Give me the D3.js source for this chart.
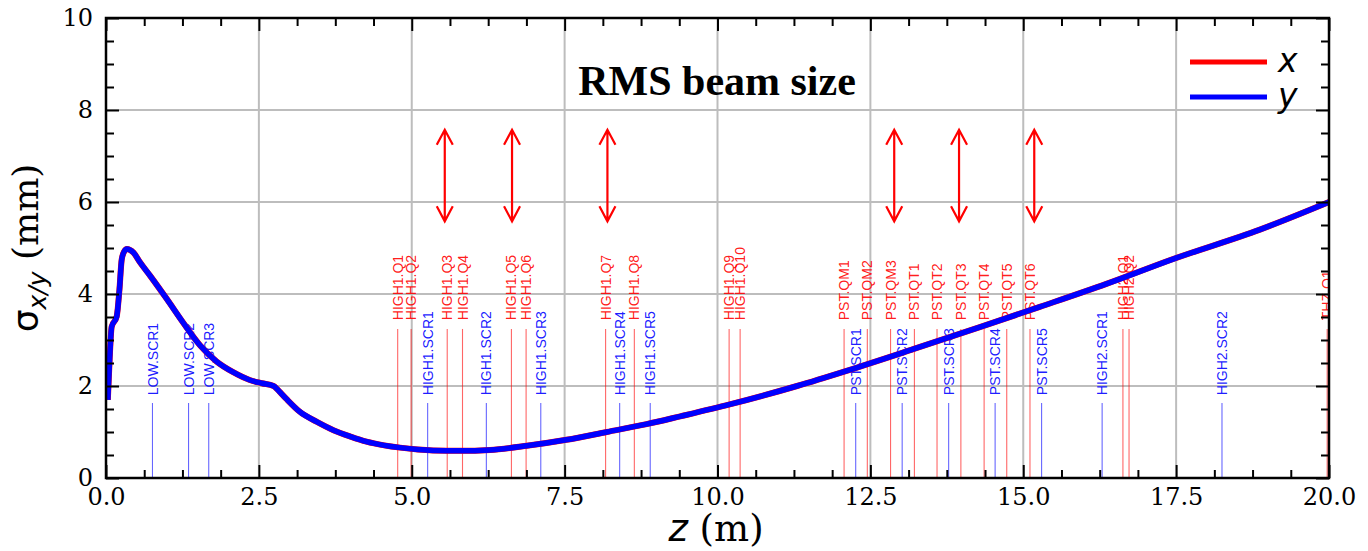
<!DOCTYPE html>
<html>
<head>
<meta charset="utf-8">
<script src="https://cdn.jsdelivr.net/npm/d3@7"></script>
<style>
  html, body { margin: 0; padding: 0; background: #fff; }
  svg { display: block; }
</style>
</head>
<body>
<svg id="chart" width="1368" height="551"></svg>
<script>
// ---------- DATA ----------
const zVals  = [0.03, 0.06, 0.093, 0.175, 0.22, 0.257, 0.30, 0.34, 0.45, 0.55, 0.72, 0.99, 1.26, 1.54, 1.81, 2.08, 2.35, 2.55, 2.74, 2.80, 2.85, 2.95, 3.17, 3.45, 3.72, 4.00, 4.26, 4.55, 4.81, 5.10, 5.35, 5.79, 6.28, 6.88, 7.53, 8.19, 8.84, 9.39, 10.2, 11.3, 12.11, 13.2, 14.29, 15.27, 16.36, 17.45, 18.87, 20.0];
const sigmaX = [1.70, 2.60, 3.29, 3.51, 4.10, 4.75, 4.93, 4.98, 4.90, 4.70, 4.40, 3.90, 3.38, 2.88, 2.53, 2.30, 2.13, 2.06, 2.00, 1.93, 1.86, 1.72, 1.44, 1.22, 1.04, 0.90, 0.79, 0.71, 0.66, 0.62, 0.60, 0.59, 0.61, 0.70, 0.83, 1.00, 1.17, 1.34, 1.60, 2.00, 2.33, 2.80, 3.28, 3.72, 4.22, 4.76, 5.40, 6.00];
const sigmaY = [1.70, 2.60, 3.29, 3.51, 4.10, 4.75, 4.93, 4.98, 4.90, 4.70, 4.40, 3.90, 3.38, 2.88, 2.53, 2.30, 2.13, 2.06, 2.00, 1.93, 1.86, 1.72, 1.44, 1.22, 1.04, 0.90, 0.79, 0.71, 0.66, 0.62, 0.60, 0.59, 0.61, 0.70, 0.83, 1.00, 1.17, 1.34, 1.60, 2.00, 2.33, 2.80, 3.28, 3.72, 4.22, 4.76, 5.40, 6.00];

const quadNames = ["HIGH1.Q1","HIGH1.Q2","HIGH1.Q3","HIGH1.Q4","HIGH1.Q5","HIGH1.Q6","HIGH1.Q7","HIGH1.Q8","HIGH1.Q9","HIGH1.Q10",
                   "PST.QM1","PST.QM2","PST.QM3","PST.QT1","PST.QT2","PST.QT3","PST.QT4","PST.QT5","PST.QT6",
                   "HIGH2.Q1","HIGH2.Q2","THZ.Q1"];
const quadZ     = [4.77, 4.99, 5.58, 5.83, 6.63, 6.87, 8.17, 8.64, 10.19, 10.37,
                   12.07, 12.45, 12.83, 13.22, 13.59, 13.98, 14.36, 14.73, 15.11,
                   16.63, 16.73, 19.97];

const screenNames = ["LOW.SCR1","LOW.SCR2","LOW.SCR3","HIGH1.SCR1","HIGH1.SCR2","HIGH1.SCR3","HIGH1.SCR4","HIGH1.SCR5",
                     "PST.SCR1","PST.SCR2","PST.SCR3","PST.SCR4","PST.SCR5","HIGH2.SCR1","HIGH2.SCR2"];
const screenZ     = [0.76, 1.35, 1.68, 5.26, 6.22, 7.11, 8.40, 8.90,
                     12.26, 13.02, 13.78, 14.54, 15.30, 16.29, 18.25];

const arrowZ = [5.54, 6.64, 8.20, 12.89, 13.95, 15.18];

const xTicks = [0, 2.5, 5, 7.5, 10, 12.5, 15, 17.5, 20];
const xTickLabels = ["0.0","2.5","5.0","7.5","10.0","12.5","15.0","17.5","20.0"];
const yTicks = [0, 2, 4, 6, 8, 10];
const yTickLabels = ["0","2","4","6","8","10"];

const titleText = "RMS beam size";
const legendLabels = ["x", "y"];

// ---------- LAYOUT ----------
const L = 106, R = 1329, T = 18, B = 478;
const x = d3.scaleLinear().domain([0, 20]).range([L, R]);
const y = d3.scaleLinear().domain([0, 10]).range([B, T]);

const svg = d3.select("#chart");

svg.append("defs").append("clipPath").attr("id", "plotclip")
  .append("rect").attr("x", L).attr("y", T).attr("width", R - L).attr("height", B - T);

// grid
const grid = svg.append("g");
grid.selectAll("line.gx").data(xTicks).join("line")
  .attr("x1", d => x(d)).attr("x2", d => x(d)).attr("y1", T).attr("y2", B)
  .attr("stroke", "#bdbdbd").attr("stroke-width", 2);
grid.selectAll("line.gy").data(yTicks).join("line")
  .attr("y1", d => y(d)).attr("y2", d => y(d)).attr("x1", L).attr("x2", R)
  .attr("stroke", "#bdbdbd").attr("stroke-width", 2);

const plot = svg.append("g").attr("clip-path", "url(#plotclip)");

// element markers
const quadLineTop = 3.24, quadLabelStart = 3.43;
const scrLineTop = 1.63, scrLabelStart = 1.80;

const quads = quadNames.map((n, i) => ({ name: n, z: quadZ[i] }));
const scrs = screenNames.map((n, i) => ({ name: n, z: screenZ[i] }));

plot.selectAll("line.q").data(quads).join("line")
  .attr("x1", d => x(d.z)).attr("x2", d => x(d.z))
  .attr("y1", y(0)).attr("y2", y(quadLineTop))
  .attr("stroke", "#ff0000").attr("stroke-opacity", 0.6).attr("stroke-width", 1.1);
plot.selectAll("text.q").data(quads).join("text")
  .attr("transform", d => `translate(${x(d.z)},${y(quadLabelStart)}) rotate(-90)`)
  .attr("dy", "0.36em")
  .attr("font-family", "Liberation Sans, Arial, sans-serif").attr("font-size", 14)
  .attr("fill", "#ff0000").attr("fill-opacity", 0.9)
  .text(d => d.name);

plot.selectAll("line.s").data(scrs).join("line")
  .attr("x1", d => x(d.z)).attr("x2", d => x(d.z))
  .attr("y1", y(0)).attr("y2", y(scrLineTop))
  .attr("stroke", "#0000ff").attr("stroke-opacity", 0.6).attr("stroke-width", 1.1);
plot.selectAll("text.s").data(scrs).join("text")
  .attr("transform", d => `translate(${x(d.z)},${y(scrLabelStart)}) rotate(-90)`)
  .attr("dy", "0.36em")
  .attr("font-family", "Liberation Sans, Arial, sans-serif").attr("font-size", 14)
  .attr("fill", "#0000ff").attr("fill-opacity", 0.9)
  .text(d => d.name);

// beam size curves
const lineGen = vals => d3.line()
  .x((d, i) => x(zVals[i])).y(d => y(d))
  .curve(d3.curveMonotoneX)(vals);

plot.append("path").attr("d", lineGen(sigmaX))
  .attr("fill", "none").attr("stroke", "#ff0000").attr("stroke-width", 6)
  .attr("stroke-linejoin", "round");
plot.append("path").attr("d", lineGen(sigmaY))
  .attr("fill", "none").attr("stroke", "#0000ff").attr("stroke-width", 5.5)
  .attr("stroke-linejoin", "round");

// double arrows
const arrowTop = 7.57, arrowBot = 5.58;
const ah = 15, aw = 8;
plot.selectAll("path.arrow").data(arrowZ).join("path")
  .attr("d", d => {
    const ax = x(d), t = y(arrowTop), b = y(arrowBot);
    return `M${ax},${t}L${ax},${b}` +
           `M${ax - aw},${t + ah}L${ax},${t}L${ax + aw},${t + ah}` +
           `M${ax - aw},${b - ah}L${ax},${b}L${ax + aw},${b - ah}`;
  })
  .attr("fill", "none").attr("stroke", "#ff0000").attr("stroke-width", 2.2);

// title
svg.append("text").attr("x", 717).attr("y", 95).attr("text-anchor", "middle")
  .attr("font-family", "Liberation Serif, Times New Roman, serif")
  .attr("font-weight", "bold").attr("font-size", 42)
  .text(titleText);

// legend
const legColors = ["#ff0000", "#0000ff"];
const legY = [62, 97];
legendLabels.forEach((lab, i) => {
  svg.append("line").attr("x1", 1190).attr("x2", 1267).attr("y1", legY[i]).attr("y2", legY[i])
    .attr("stroke", legColors[i]).attr("stroke-width", 5);
  svg.append("text").attr("x", 1278).attr("y", legY[i] + 10)
    .attr("font-family", "DejaVu Sans, sans-serif").attr("font-style", "italic")
    .attr("font-size", 33).text(lab);
});

// axes / ticks
const tickFont = "DejaVu Serif, serif";
const xMinor = d3.range(0, 20.0001, 0.625).filter(v => Math.abs(v / 2.5 - Math.round(v / 2.5)) > 1e-6);
const yMinor = d3.range(0, 10.0001, 0.5).filter(v => Math.abs(v / 2 - Math.round(v / 2)) > 1e-6);

function styleAxis(g) {
  g.select(".domain").remove();
  g.selectAll(".tick line").attr("stroke", "#000").attr("stroke-width", 2);
  g.selectAll("text").attr("font-family", tickFont).attr("font-size", 24).attr("fill", "#000");
}

svg.append("g").attr("transform", `translate(0,${B})`)
  .call(d3.axisBottom(x).tickValues(xTicks).tickSize(-13).tickPadding(10)
        .tickFormat((d, i) => xTickLabels[i])).call(styleAxis);
svg.append("g").attr("transform", `translate(0,${B})`)
  .call(d3.axisBottom(x).tickValues(xMinor).tickSize(-8).tickFormat("")).call(styleAxis);
svg.append("g").attr("transform", `translate(0,${T})`)
  .call(d3.axisTop(x).tickValues(xTicks).tickSize(-13).tickFormat("")).call(styleAxis);
svg.append("g").attr("transform", `translate(0,${T})`)
  .call(d3.axisTop(x).tickValues(xMinor).tickSize(-8).tickFormat("")).call(styleAxis);

svg.append("g").attr("transform", `translate(${L},0)`)
  .call(d3.axisLeft(y).tickValues(yTicks).tickSize(-13).tickPadding(13)
        .tickFormat((d, i) => yTickLabels[i])).call(styleAxis);
svg.append("g").attr("transform", `translate(${L},0)`)
  .call(d3.axisLeft(y).tickValues(yMinor).tickSize(-8).tickFormat("")).call(styleAxis);
svg.append("g").attr("transform", `translate(${R},0)`)
  .call(d3.axisRight(y).tickValues(yTicks).tickSize(-13).tickFormat("")).call(styleAxis);
svg.append("g").attr("transform", `translate(${R},0)`)
  .call(d3.axisRight(y).tickValues(yMinor).tickSize(-8).tickFormat("")).call(styleAxis);

// frame
svg.append("rect").attr("x", L).attr("y", T).attr("width", R - L).attr("height", B - T)
  .attr("fill", "none").attr("stroke", "#000").attr("stroke-width", 2.5);

// axis labels
const xl = svg.append("text").attr("x", 716).attr("y", 541).attr("text-anchor", "middle")
  .attr("font-size", 37);
xl.append("tspan").attr("font-family", "DejaVu Sans, sans-serif").attr("font-style", "italic").text("z");
xl.append("tspan").attr("font-family", "DejaVu Serif, serif").text(" (m)");

const yl = svg.append("text").attr("transform", `translate(38,${(T + B) / 2}) rotate(-90)`)
  .attr("text-anchor", "middle").attr("font-size", 36);
yl.append("tspan").attr("font-family", "DejaVu Sans, sans-serif").text("σ");
yl.append("tspan").attr("font-family", "DejaVu Sans, sans-serif").attr("font-style", "italic")
  .attr("font-size", 25).attr("dy", 8).text("x/y");
yl.append("tspan").attr("font-family", "DejaVu Serif, serif").attr("dy", -8).text(" (mm)");
</script>
</body>
</html>
